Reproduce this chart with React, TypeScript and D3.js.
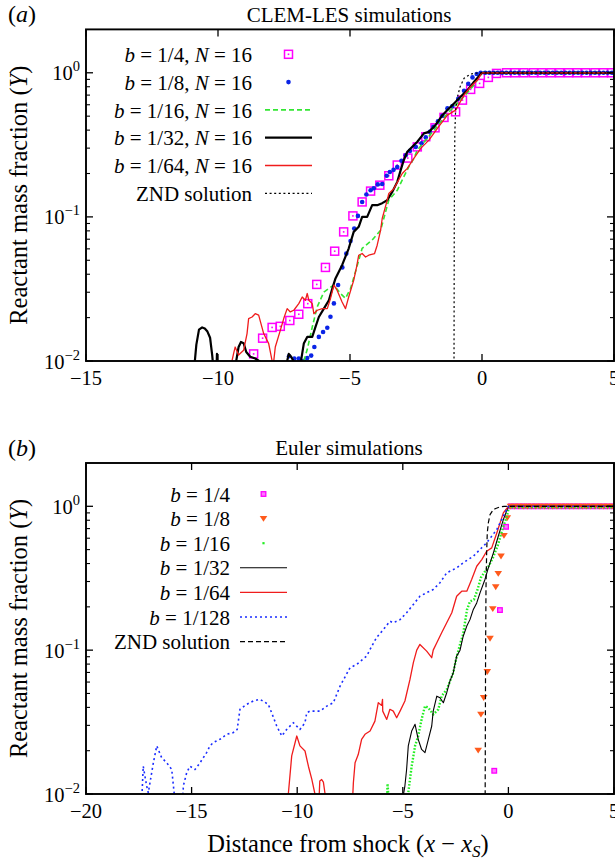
import React from "react";
import * as d3 from "d3";

type P = [number, number];

const FONT = "'Liberation Serif'";

// ---------- Axis ticks ----------
const A_X_TICKS = [-15, -10, -5, 0, 5];
const B_X_TICKS = [-20, -15, -10, -5, 0, 5];
const Y_DECADES = [0.01, 0.1, 1];
const Y_EXPONENTS = ["−2", "−1", "0"];
const Y_MINOR_FACTORS = [2, 3, 4, 5, 6, 7, 8, 9];

// ---------- Panel (a): CLEM-LES ----------
const A_B4: P[] = [
  [-8.65, 0.0112], [-8.31, 0.0144], [-7.95, 0.0171], [-7.64, 0.0174], [-7.28, 0.0191],
  [-6.94, 0.0211], [-6.6, 0.025], [-6.26, 0.034], [-5.93, 0.0446], [-5.58, 0.0578],
  [-5.24, 0.0787], [-4.89, 0.1016], [-4.54, 0.127], [-4.22, 0.151], [-3.87, 0.166],
  [-3.53, 0.193], [-3.21, 0.229], [-2.81, 0.256], [-2.45, 0.306], [-2.13, 0.36],
  [-1.78, 0.415], [-1.44, 0.49], [-1.0, 0.536], [-0.74, 0.646], [-0.43, 0.767],
  [-0.09, 0.844], [0.24, 0.929], [0.55, 0.99], [0.93, 1], [1.25, 1], [1.59, 1],
  [1.95, 1], [2.27, 1], [2.61, 1], [2.94, 1], [3.28, 1], [3.6, 1], [3.93, 1],
  [4.28, 1], [4.6, 1], [4.91, 1],
];

const A_B8: P[] = [
  [-7.31, 0.0108], [-7.11, 0.0104], [-6.94, 0.0104], [-6.75, 0.01], [-6.62, 0.0105],
  [-6.47, 0.0109], [-6.35, 0.0125], [-6.18, 0.0147], [-6.02, 0.0159], [-5.86, 0.017],
  [-5.74, 0.0203], [-5.61, 0.0251], [-5.45, 0.0337], [-5.29, 0.0446], [-5.14, 0.0556],
  [-4.98, 0.0681], [-4.84, 0.083], [-4.7, 0.1016], [-4.54, 0.127], [-4.38, 0.143],
  [-4.22, 0.153], [-4.1, 0.158], [-3.95, 0.168], [-3.78, 0.169], [-3.61, 0.193],
  [-3.49, 0.205], [-3.35, 0.212], [-3.21, 0.222], [-3.05, 0.245], [-2.89, 0.268],
  [-2.73, 0.287], [-2.51, 0.306], [-2.29, 0.324], [-2.13, 0.356], [-1.98, 0.39],
  [-1.84, 0.422], [-1.67, 0.46], [-1.5, 0.503], [-1.31, 0.566], [-1.12, 0.587],
  [-0.9, 0.66], [-0.68, 0.75], [-0.52, 0.84], [-0.36, 0.929], [-0.2, 0.98],
  [-0.05, 1], [0.12, 1], [0.28, 1], [0.44, 1], [0.6, 1], [0.76, 1], [0.92, 1],
  [1.08, 1], [1.24, 1], [1.4, 1], [1.56, 1], [1.72, 1], [1.88, 1], [2.04, 1],
  [2.2, 1], [2.36, 1], [2.52, 1], [2.68, 1], [2.84, 1], [3.0, 1], [3.16, 1],
  [3.32, 1], [3.48, 1], [3.64, 1], [3.8, 1], [3.96, 1], [4.12, 1], [4.28, 1],
  [4.44, 1], [4.6, 1], [4.76, 1], [4.92, 1],
];

const A_B16: P[] = [
  [-6.8, 0.006], [-6.75, 0.01], [-6.62, 0.012], [-6.43, 0.0172], [-6.24, 0.0238],
  [-5.99, 0.0301], [-5.61, 0.0337], [-5.36, 0.0294], [-5.17, 0.0272], [-4.98, 0.0318],
  [-4.79, 0.0418], [-4.54, 0.0605], [-4.16, 0.069], [-3.84, 0.0808], [-3.53, 0.131],
  [-3.21, 0.153], [-2.96, 0.19], [-2.77, 0.223], [-2.58, 0.255], [-2.45, 0.291],
  [-2.13, 0.341], [-1.76, 0.411], [-1.31, 0.522], [-0.81, 0.646], [-0.3, 0.822],
  [0.0, 1], [5, 1],
];

const A_B32: P[] = [
  [-11.05, 0.006], [-10.9, 0.009], [-10.82, 0.013], [-10.72, 0.0165], [-10.6, 0.0171],
  [-10.5, 0.0168], [-10.4, 0.016], [-10.3, 0.0145], [-10.22, 0.011], [-10.15, 0.008],
  [-10.07, 0.007], [-10.04, 0.0112], [-10.02, 0.007], [-9.9, 0.006],
  [-9.4, 0.006], [-9.31, 0.01], [-9.22, 0.0125], [-9.13, 0.01355], [-9.03, 0.0133],
  [-8.93, 0.01155], [-8.78, 0.0107], [-8.59, 0.0104], [-8.4, 0.0099], [-8.3, 0.006],
  [-7.45, 0.006], [-7.38, 0.01], [-7.32, 0.0112], [-7.23, 0.0107], [-7.13, 0.0099],
  [-7.05, 0.006],
  [-6.9, 0.006], [-6.86, 0.0099], [-6.75, 0.0132], [-6.62, 0.0147], [-6.43, 0.0147],
  [-6.31, 0.0172], [-6.18, 0.0202], [-5.99, 0.0231], [-5.8, 0.0264], [-5.67, 0.0318],
  [-5.55, 0.0374], [-5.3, 0.0462], [-5.05, 0.0603], [-4.86, 0.0787], [-4.67, 0.0853],
  [-4.54, 0.1], [-4.35, 0.1], [-4.16, 0.1206], [-3.97, 0.1206], [-3.78, 0.1245],
  [-3.59, 0.1306], [-3.4, 0.149], [-3.21, 0.175], [-3.08, 0.211], [-2.96, 0.248],
  [-2.83, 0.283], [-2.45, 0.332], [-2.2, 0.38], [-2.01, 0.389], [-1.76, 0.434],
  [-1.5, 0.508], [-1.31, 0.551], [-1.06, 0.613], [-0.81, 0.681], [-0.55, 0.758],
  [-0.3, 0.866], [0.0, 1], [5, 1],
];

const A_B64: P[] = [
  [-9.55, 0.006], [-9.47, 0.01], [-9.41, 0.01125], [-9.35, 0.0125], [-9.22, 0.011],
  [-9.03, 0.01187], [-8.9, 0.0155], [-8.84, 0.0197], [-8.71, 0.0202], [-8.59, 0.0213],
  [-8.46, 0.0208], [-8.27, 0.0155], [-8.08, 0.0132], [-7.91, 0.0092], [-7.83, 0.0125],
  [-7.64, 0.0163], [-7.51, 0.0197], [-7.38, 0.0231], [-7.26, 0.0219], [-7.13, 0.0225],
  [-6.94, 0.025], [-6.81, 0.0278], [-6.69, 0.0264], [-6.62, 0.0294], [-6.56, 0.0264],
  [-6.43, 0.025], [-6.37, 0.0213], [-6.24, 0.0225], [-6.05, 0.0231], [-5.86, 0.0231],
  [-5.74, 0.0271], [-5.61, 0.0336], [-5.49, 0.031], [-5.3, 0.0257], [-5.17, 0.0231],
  [-5.05, 0.0278], [-4.86, 0.0363], [-4.75, 0.045], [-4.67, 0.0542], [-4.54, 0.0557],
  [-4.41, 0.0527], [-4.29, 0.0542], [-4.07, 0.0557], [-3.97, 0.0636], [-3.84, 0.0809],
  [-3.78, 0.0975], [-3.59, 0.1306], [-3.53, 0.1454], [-3.34, 0.157], [-3.02, 0.2],
  [-2.83, 0.217], [-2.58, 0.255], [-2.32, 0.299], [-2.01, 0.341], [-1.69, 0.411],
  [-1.31, 0.508], [-1.0, 0.551], [-0.68, 0.7], [-0.43, 0.8], [-0.17, 0.89],
  [0.0, 1], [5, 1],
];

const A_ZND: P[] = [
  [-1.06, 0.004], [-1.06, 0.01], [-1.05, 0.1], [-1.03, 0.38], [-1.0, 0.55],
  [-0.93, 0.68], [-0.83, 0.8], [-0.68, 0.915], [-0.43, 0.98], [-0.2, 0.995],
  [0, 1], [5, 1],
];

// ---------- Panel (b): Euler ----------
const B_B4: P[] = [
  [-0.67, 0.0145], [-0.4, 0.19], [-0.11, 0.72], [0.12, 1], [0.4, 1], [0.68, 1],
  [0.96, 1], [1.24, 1], [1.52, 1], [1.8, 1], [2.08, 1], [2.36, 1], [2.64, 1],
  [2.92, 1], [3.2, 1], [3.48, 1], [3.76, 1], [4.04, 1], [4.32, 1], [4.6, 1], [4.88, 1],
];

const B_B8: P[] = [
  [-1.43, 0.0201], [-1.3, 0.0358], [-1.17, 0.0467], [-1.0, 0.0708], [-0.87, 0.1206],
  [-0.74, 0.194], [-0.6, 0.275], [-0.48, 0.341], [-0.35, 0.45], [-0.21, 0.626],
  [-0.05, 0.831], [0.1, 1], [0.3, 1], [0.5, 1], [0.7, 1], [0.9, 1], [1.1, 1],
  [1.3, 1], [1.5, 1], [1.7, 1], [1.9, 1], [2.1, 1], [2.3, 1], [2.5, 1], [2.7, 1],
  [2.9, 1], [3.1, 1], [3.3, 1], [3.5, 1], [3.7, 1], [3.9, 1], [4.1, 1], [4.3, 1],
  [4.5, 1], [4.7, 1], [4.9, 1],
];

const B_B16: P[] = [
  [-5.78, 0.006], [-5.75, 0.0095], [-5.72, 0.0118], [-5.68, 0.0095], [-5.64, 0.006],
  [-4.84, 0.006], [-4.8, 0.009], [-4.74, 0.0102], [-4.58, 0.0156], [-4.42, 0.0216],
  [-4.27, 0.0253], [-4.11, 0.033], [-3.95, 0.0408], [-3.79, 0.0398], [-3.56, 0.0357],
  [-3.32, 0.0387], [-3.16, 0.0479], [-2.92, 0.0534], [-2.77, 0.0606], [-2.61, 0.0697],
  [-2.48, 0.0861], [-2.29, 0.11], [-2.15, 0.128], [-2.05, 0.158], [-1.96, 0.191],
  [-1.82, 0.218], [-1.63, 0.225], [-1.46, 0.264], [-1.3, 0.32], [-1.11, 0.352],
  [-0.97, 0.375], [-0.73, 0.44], [-0.49, 0.542], [-0.26, 0.711], [-0.07, 0.852],
  [0.02, 0.985], [5, 0.985],
];

const B_B32: P[] = [
  [-5.05, 0.006], [-4.98, 0.0097], [-4.9, 0.0114], [-4.82, 0.0148], [-4.74, 0.0216],
  [-4.58, 0.0274], [-4.42, 0.0305], [-4.27, 0.024], [-4.11, 0.0204], [-3.95, 0.0194],
  [-3.79, 0.024], [-3.63, 0.0297], [-3.56, 0.0377], [-3.39, 0.0479], [-3.24, 0.0467],
  [-3.08, 0.0431], [-2.92, 0.0506], [-2.77, 0.0609], [-2.61, 0.0697], [-2.45, 0.0909],
  [-2.29, 0.1], [-2.14, 0.125], [-1.97, 0.147], [-1.82, 0.163], [-1.66, 0.192],
  [-1.5, 0.213], [-1.34, 0.251], [-1.11, 0.31], [-0.95, 0.373], [-0.71, 0.475],
  [-0.48, 0.619], [-0.24, 0.808], [0, 1], [5, 1],
];

const B_B64: P[] = [
  [-10.5, 0.006], [-10.42, 0.01], [-10.26, 0.0184], [-10.02, 0.0253], [-9.87, 0.0216],
  [-9.63, 0.0199], [-9.47, 0.0156], [-9.31, 0.0127], [-9.16, 0.01], [-9.08, 0.006],
  [-9.0, 0.006], [-8.97, 0.009], [-8.93, 0.0123], [-8.84, 0.0126], [-8.76, 0.0121],
  [-8.68, 0.01], [-8.64, 0.006], [-7.45, 0.006], [-7.38, 0.009], [-7.34, 0.012],
  [-7.26, 0.0165], [-7.11, 0.0188], [-6.95, 0.024], [-6.79, 0.026], [-6.55, 0.0274],
  [-6.32, 0.0321], [-6.16, 0.0431], [-6.0, 0.0413], [-5.96, 0.0455], [-5.95, 0.0377],
  [-5.76, 0.033], [-5.61, 0.0388], [-5.45, 0.0377], [-5.29, 0.0339], [-5.13, 0.0377],
  [-4.9, 0.0443], [-4.66, 0.0626], [-4.5, 0.0818], [-4.34, 0.1], [-4.19, 0.1096],
  [-3.87, 0.0985], [-3.63, 0.0886], [-3.56, 0.1], [-3.39, 0.1125], [-3.16, 0.132],
  [-2.92, 0.155], [-2.68, 0.182], [-2.45, 0.237], [-2.21, 0.257], [-1.97, 0.257],
  [-1.74, 0.31], [-1.5, 0.383], [-1.26, 0.426], [-1.03, 0.487], [-0.79, 0.514],
  [-0.55, 0.653], [-0.24, 0.9], [0, 1], [5, 1],
];

const B_B128: P[] = [
  [-17.42, 0.006], [-17.36, 0.009], [-17.29, 0.0156], [-17.13, 0.0114], [-17.05, 0.0102],
  [-16.81, 0.0165], [-16.65, 0.0216], [-16.42, 0.0179], [-16.18, 0.0165], [-15.94, 0.0148],
  [-15.79, 0.009], [-15.7, 0.006], [-15.5, 0.006], [-15.42, 0.009], [-15.39, 0.0114],
  [-15.23, 0.0141], [-15.08, 0.0156], [-14.84, 0.0148], [-14.6, 0.0165], [-14.29, 0.0194],
  [-14.13, 0.0216], [-13.97, 0.0228], [-13.66, 0.024], [-13.34, 0.026], [-13.03, 0.0267],
  [-12.84, 0.0281], [-12.71, 0.0388], [-12.39, 0.042], [-12.08, 0.0443], [-11.76, 0.0455],
  [-11.37, 0.042], [-11.21, 0.0367], [-10.97, 0.0297], [-10.73, 0.0253], [-10.5, 0.0281],
  [-10.18, 0.0313], [-9.87, 0.0281], [-9.63, 0.0313], [-9.55, 0.0367], [-9.39, 0.0377],
  [-8.92, 0.0377], [-8.6, 0.0408], [-8.29, 0.0431], [-7.97, 0.0562], [-7.5, 0.0755],
  [-7.18, 0.0796], [-6.71, 0.0909], [-6.47, 0.1066], [-6.24, 0.1225], [-5.92, 0.139],
  [-5.61, 0.159], [-5.45, 0.155], [-5.13, 0.163], [-4.82, 0.182], [-4.5, 0.208],
  [-4.19, 0.237], [-3.87, 0.251], [-3.56, 0.264], [-3.24, 0.294], [-2.92, 0.345],
  [-2.77, 0.354], [-2.45, 0.373], [-2.14, 0.405], [-1.66, 0.45], [-1.03, 0.557],
  [-0.55, 0.689], [-0.24, 0.852], [0, 1], [5, 1],
];

const B_ZND: P[] = [
  [-1.1, 0.004], [-1.1, 0.01], [-1.08, 0.1], [-1.06, 0.278], [-1.03, 0.475],
  [-1.0, 0.654], [-0.95, 0.767], [-0.87, 0.876], [-0.71, 0.949], [-0.6, 0.965],
  [-0.4, 0.99], [-0.2, 0.998], [0, 1], [5, 1],
];

// ---------- Styles ----------
const MAGENTA = "#ff00ff";
const BLUE = "#0a24e6";
const GREEN = "#33e633";
const RED = "#f01c1c";
const ORANGE = "#ff5a1c";
const LIME = "#22ee22";
const BLUE_DOT = "#1a2cff";

type Kind = "openSquare" | "dot" | "smallSquare" | "triangle" | "greenDots" | "line";

interface Series {
  data: P[];
  kind: Kind;
  color: string;
  width?: number;
  dash?: string;
  label: React.ReactNode;
}

const it = (s: string) => <tspan fontStyle="italic">{s}</tspan>;

const A_LABELS = ["1/4", "1/8", "1/16", "1/32", "1/64"];
const B_LABELS = ["1/4", "1/8", "1/16", "1/32", "1/64", "1/128"];

const aLabel = (b: string) => (
  <>
    {it("b")} = {b}, {it("N")} = 16
  </>
);
const bLabel = (b: string) => (
  <>
    {it("b")} = {b}
  </>
);

const SERIES_A: Series[] = [
  { data: A_B4, kind: "openSquare", color: MAGENTA, label: aLabel(A_LABELS[0]) },
  { data: A_B8, kind: "dot", color: BLUE, label: aLabel(A_LABELS[1]) },
  { data: A_B16, kind: "line", color: GREEN, width: 1.6, dash: "5,3", label: aLabel(A_LABELS[2]) },
  { data: A_B32, kind: "line", color: "#000", width: 2.2, label: aLabel(A_LABELS[3]) },
  { data: A_B64, kind: "line", color: RED, width: 1.3, label: aLabel(A_LABELS[4]) },
  { data: A_ZND, kind: "line", color: "#000", width: 1.2, dash: "2,2.6", label: "ZND solution" },
];

const SERIES_B: Series[] = [
  { data: B_B4, kind: "smallSquare", color: MAGENTA, label: bLabel(B_LABELS[0]) },
  { data: B_B8, kind: "triangle", color: ORANGE, label: bLabel(B_LABELS[1]) },
  { data: B_B16, kind: "greenDots", color: LIME, width: 2.4, dash: "1.6,1.7", label: bLabel(B_LABELS[2]) },
  { data: B_B32, kind: "line", color: "#000", width: 1.1, label: bLabel(B_LABELS[3]) },
  { data: B_B64, kind: "line", color: RED, width: 1.3, label: bLabel(B_LABELS[4]) },
  { data: B_B128, kind: "line", color: BLUE_DOT, width: 1.6, dash: "2,3", label: bLabel(B_LABELS[5]) },
  { data: B_ZND, kind: "line", color: "#000", width: 1.2, dash: "5,3", label: "ZND solution" },
];

function Marker({ kind, color, x, y }: { kind: Kind; color: string; x: number; y: number }) {
  if (kind === "openSquare")
    return (
      <g>
        <rect x={x - 4} y={y - 4} width={8} height={8} fill="none" stroke={color} strokeWidth={1.5} />
        <rect x={x - 0.8} y={y - 0.8} width={1.6} height={1.6} fill={color} />
      </g>
    );
  if (kind === "dot") return <circle cx={x} cy={y} r={2.3} fill={color} />;
  if (kind === "smallSquare")
    return <rect x={x - 2.3} y={y - 2.3} width={4.6} height={4.6} fill="#ff77ff" stroke={color} strokeWidth={1.3} />;
  if (kind === "triangle")
    return <path d={`M${x - 3.8},${y - 2.6}L${x + 3.8},${y - 2.6}L${x},${y + 3.2}Z`} fill={color} />;
  return <rect x={x - 1.1} y={y - 1.1} width={2.2} height={2.2} fill={color} />;
}

interface PanelSpec {
  id: string;
  top: number;
  bottom: number;
  xDomain: [number, number];
  xTicks: number[];
  tag: string;
  title: string;
  series: Series[];
  legendTextX: number;
  legendSampleX0: number;
  legendSampleX1: number;
  legendY0: number;
  legendDy: number;
}

const LEFT = 86;
const RIGHT = 614;
const TXT = { fontFamily: FONT };

function Panel({ spec }: { spec: PanelSpec }) {
  const x = d3.scaleLinear().domain(spec.xDomain).range([LEFT, RIGHT]);
  const y = d3.scaleLog().domain([0.01, 2]).range([spec.bottom, spec.top]);
  const line = d3
    .line<P>()
    .x((d) => x(d[0]))
    .y((d) => y(d[1]));
  const clipId = `clip-${spec.id}`;
  const minor: number[] = [];
  Y_DECADES.forEach((dec) =>
    Y_MINOR_FACTORS.forEach((f) => {
      const v = dec * f;
      if (v < 2) minor.push(v);
    })
  );
  const midY = (spec.top + spec.bottom) / 2;
  const mid = (LEFT + RIGHT) / 2 - 1;

  return (
    <g>
      <defs>
        <clipPath id={clipId}>
          <rect x={LEFT} y={spec.top} width={RIGHT - LEFT} height={spec.bottom - spec.top} />
        </clipPath>
      </defs>

      {/* tag and title */}
      <text x={8} y={spec.top - 7} fontSize={24} style={TXT}>
        ({it(spec.tag)})
      </text>
      <text x={mid} y={spec.top - 7.7} fontSize={21} textAnchor="middle" style={TXT}>
        {spec.title}
      </text>

      {/* y label */}
      <text transform={`translate(27,${midY}) rotate(-90)`} fontSize={24.5} textAnchor="middle" style={TXT}>
        Reactant mass fraction ({it("Y")})
      </text>

      {/* data */}
      <g clipPath={`url(#${clipId})`}>
        {spec.series.map((s, i) => {
          if (s.kind === "line" || s.kind === "greenDots")
            return (
              <path
                key={i}
                d={line(s.data) || ""}
                fill="none"
                stroke={s.color}
                strokeWidth={s.width}
                strokeDasharray={s.dash}
                strokeLinejoin="round"
              />
            );
          return (
            <g key={i}>
              {s.data.map((d, j) => (
                <Marker key={j} kind={s.kind} color={s.color} x={x(d[0])} y={y(d[1])} />
              ))}
            </g>
          );
        })}
      </g>

      {/* legend */}
      {spec.series.map((s, i) => {
        const ly = spec.legendY0 + i * spec.legendDy;
        const sx0 = spec.legendSampleX0;
        const sx1 = spec.legendSampleX1;
        return (
          <g key={i}>
            <text x={spec.legendTextX} y={ly + 7.6} fontSize={21} textAnchor="end" style={TXT}>
              {s.label}
            </text>
            {s.kind === "line" ? (
              <line x1={sx0} x2={sx1} y1={ly} y2={ly} stroke={s.color} strokeWidth={s.width} strokeDasharray={s.dash} />
            ) : (
              <Marker kind={s.kind} color={s.color} x={(sx0 + sx1) / 2} y={ly} />
            )}
          </g>
        );
      })}

      {/* ticks */}
      {spec.xTicks.map((t) => (
        <g key={`xt${t}`}>
          <line x1={x(t)} x2={x(t)} y1={spec.bottom} y2={spec.bottom - 7} stroke="#000" strokeWidth={1.3} />
          <line x1={x(t)} x2={x(t)} y1={spec.top} y2={spec.top + 7} stroke="#000" strokeWidth={1.3} />
          <text x={x(t)} y={spec.bottom + 24} fontSize={20.5} textAnchor="middle" style={TXT}>
            {t < 0 ? `−${-t}` : `${t}`}
          </text>
        </g>
      ))}
      {Y_DECADES.map((v, i) => (
        <g key={`yt${v}`}>
          <line x1={LEFT} x2={LEFT + 7} y1={y(v)} y2={y(v)} stroke="#000" strokeWidth={1.3} />
          <line x1={RIGHT} x2={RIGHT - 7} y1={y(v)} y2={y(v)} stroke="#000" strokeWidth={1.3} />
          <text x={80} y={y(v) + 7.5} fontSize={20.5} textAnchor="end" style={TXT}>
            10
            <tspan dy={-9} fontSize={14.5}>
              {Y_EXPONENTS[i]}
            </tspan>
          </text>
        </g>
      ))}
      {minor.map((v) => (
        <g key={`ym${v}`}>
          <line x1={LEFT} x2={LEFT + 4} y1={y(v)} y2={y(v)} stroke="#000" strokeWidth={1.1} />
          <line x1={RIGHT} x2={RIGHT - 4} y1={y(v)} y2={y(v)} stroke="#000" strokeWidth={1.1} />
        </g>
      ))}

      {/* frame */}
      <rect
        x={LEFT}
        y={spec.top}
        width={RIGHT - LEFT}
        height={spec.bottom - spec.top}
        fill="none"
        stroke="#000"
        strokeWidth={1.9}
      />
    </g>
  );
}

const PANEL_A: PanelSpec = {
  id: "a",
  top: 29.4,
  bottom: 361,
  xDomain: [-15, 5],
  xTicks: A_X_TICKS,
  tag: "a",
  title: "CLEM-LES simulations",
  series: SERIES_A,
  legendTextX: 252,
  legendSampleX0: 265,
  legendSampleX1: 312,
  legendY0: 54.3,
  legendDy: 27.8,
};

const PANEL_B: PanelSpec = {
  id: "b",
  top: 463,
  bottom: 794,
  xDomain: [-20, 5],
  xTicks: B_X_TICKS,
  tag: "b",
  title: "Euler simulations",
  series: SERIES_B,
  legendTextX: 230,
  legendSampleX0: 240,
  legendSampleX1: 287,
  legendY0: 494,
  legendDy: 24.6,
};

export default function App() {
  return (
    <svg width={615} height={858} viewBox="0 0 615 858" style={{ position: "absolute", left: 0, top: 0 }}>
      <rect x={0} y={0} width={615} height={858} fill="#fff" />
      <Panel spec={PANEL_A} />
      <Panel spec={PANEL_B} />
      <text x={348} y={852} fontSize={24.5} textAnchor="middle" style={TXT}>
        Distance from shock ({it("x")} − {it("x")}
        <tspan dy={5} fontSize={17} fontStyle="italic">
          S
        </tspan>
        <tspan dy={-5}>)</tspan>
      </text>
    </svg>
  );
}
